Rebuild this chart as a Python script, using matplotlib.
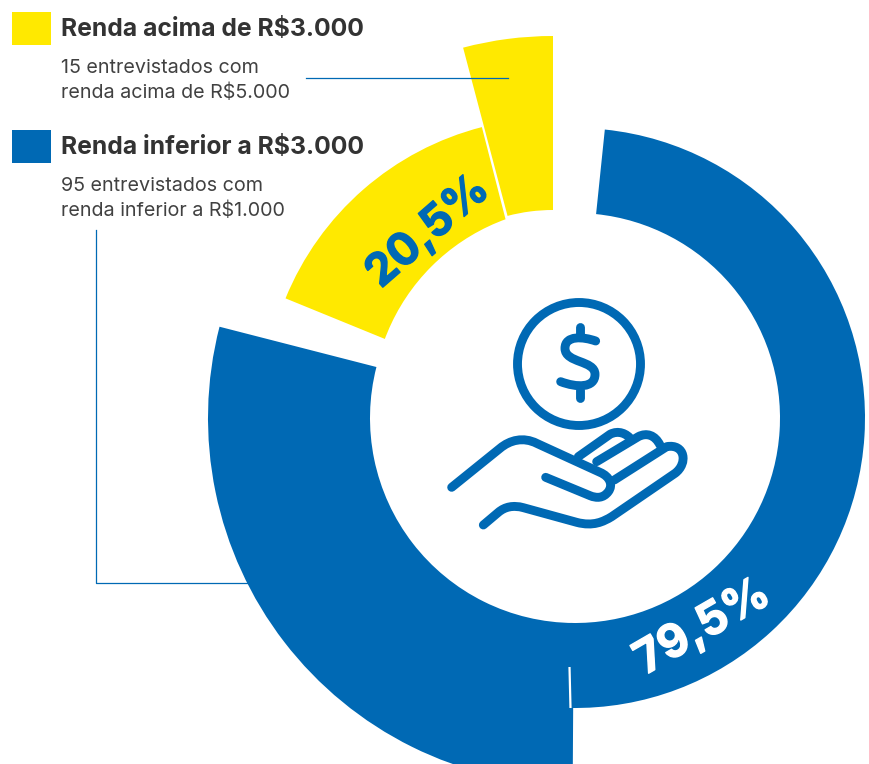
import matplotlib
matplotlib.use('Agg')
import matplotlib.pyplot as plt
import matplotlib.patheffects as pe
from matplotlib.patches import Wedge, Rectangle, Circle, PathPatch
from matplotlib.path import Path

# --- Data ---
# share labels printed on the ring
share_labels = ['79,5%', '20,5%']

# ring segments, in % of the full circle (clockwise from the top)
segment_start = [81.17, 1.64, 50.10, 95.89]
segment_size = [14.83, 48.70, 28.90, 4.11]
segment_outer = [290, 290, 367, 352]
segment_inner = [0, 205, 205, 178]
segment_color = ['#FFE900', '#0069B4', '#0069B4', '#FFE900']
# the two yellow pieces are pulled out of the ring
segment_center = [(554, 408), (575, 418), (575, 418), (553, 388)]

legend_titles = ['Renda acima de R$3.000', 'Renda inferior a R$3.000']
legend_lines = [['15 entrevistados com', 'renda acima de R$5.000'],
                ['95 entrevistados com', 'renda inferior a R$1.000']]

BLUE = '#0069B4'
YELLOW = '#FFE900'
W, H = 870, 764

# --- Figure in pixel coordinates ---
fig = plt.figure(figsize=(W / 100, H / 100), dpi=100)
ax = fig.add_axes([0, 0, 1, 1])
ax.set_xlim(0, W)
ax.set_ylim(H, 0)
ax.axis('off')

# --- Ring ---
for i, (start, size, r_out, r_in, col, c) in enumerate(zip(segment_start, segment_size, segment_outer,
                                                           segment_inner, segment_color, segment_center)):
    t1 = start * 3.6 - 90
    t2 = (start + size) * 3.6 - 90
    ax.add_patch(Wedge(c, r_out, t1, t2, width=r_out - r_in, fc=col, ec='none'))
    if i == 0:
        # inner edge of the big yellow piece follows another circle than its outer edge
        ax.add_patch(Circle((575, 410), 203, fc='white', ec='none'))

# white slit between the two blue pieces stops at the inner part
ax.plot([569.5, 570.5], [667, 708], color='white', lw=1.6, solid_capstyle='butt')

# --- Share labels ---
ax.text(703, 628, share_labels[0], color='white', fontsize=33, fontweight='bold', family='Inter',
        rotation=30, ha='center', va='center', rotation_mode='anchor',
        path_effects=[pe.withStroke(linewidth=1, foreground='white')])
ax.text(428, 232, share_labels[1], color=BLUE, fontsize=32, fontweight='bold', family='Inter',
        rotation=41, ha='center', va='center', rotation_mode='anchor',
        path_effects=[pe.withStroke(linewidth=1, foreground=BLUE)])

# --- Legend ---
legend_y = [12, 130]
title_base = [36, 154]
line_base = [[73, 98], [191, 216]]
for i, col in enumerate([YELLOW, BLUE]):
    ax.add_patch(Rectangle((12, legend_y[i]), 39, 33, fc=col, ec='none'))
    ax.text(61, title_base[i], legend_titles[i], color='#333333', fontsize=17.8, fontweight='bold',
            family='Inter', va='baseline')
    for txt, y in zip(legend_lines[i], line_base[i]):
        ax.text(61, y, txt, color='#414141', fontsize=14.2, family='Inter', va='baseline')

# --- Leader lines ---
ax.plot([306, 508], [78, 78], color=BLUE, lw=0.9)
ax.plot([96, 96, 248], [230, 583, 583], color=BLUE, lw=0.9)

# --- Icon ---
ICON_LW = 6.4


def zx(x):
    return 430 + x / 3


def zy(y):
    return 285 + y / 3


def stroke(start, *segs):
    # segs are points (line) or 3-point tuples (cubic), in crop coordinates
    verts = [(zx(start[0]), zy(start[1]))]
    codes = [Path.MOVETO]
    for s in segs:
        if len(s) == 2:
            verts.append((zx(s[0]), zy(s[1])))
            codes.append(Path.LINETO)
        else:
            for j in range(0, 6, 2):
                verts.append((zx(s[j]), zy(s[j + 1])))
                codes.append(Path.CURVE4)
    ax.add_patch(PathPatch(Path(verts, codes), fc='none', ec=BLUE, lw=ICON_LW,
                           capstyle='round', joinstyle='round'))


ax.add_patch(Circle((579, 364), 61.5, fc='none', ec=BLUE, lw=ICON_LW))
# dollar sign
stroke((497, 168), (460, 155, 405, 150, 405, 190), (405, 235, 495, 225, 495, 268),
       (495, 310, 440, 308, 392, 290))
stroke((449, 125), (449, 155))
stroke((449, 315), (449, 340))
# hand
stroke((65, 607), (210, 490), (240, 465, 280, 455, 320, 475), (510, 562),
       (540, 575, 550, 600, 535, 620), (520, 640, 500, 640, 480, 632), (347, 577))
stroke((160, 720), (205, 682), (225, 665, 250, 660, 280, 668), (440, 712),
       (490, 725, 520, 710, 545, 695), (735, 565), (775, 535, 765, 475, 710, 485), (553, 585))
stroke((500, 530), (625, 455), (650, 442, 675, 450, 690, 480))
stroke((445, 515), (540, 448), (565, 435, 590, 445, 605, 465))

fig.savefig('out.png', dpi=100, facecolor='white')
